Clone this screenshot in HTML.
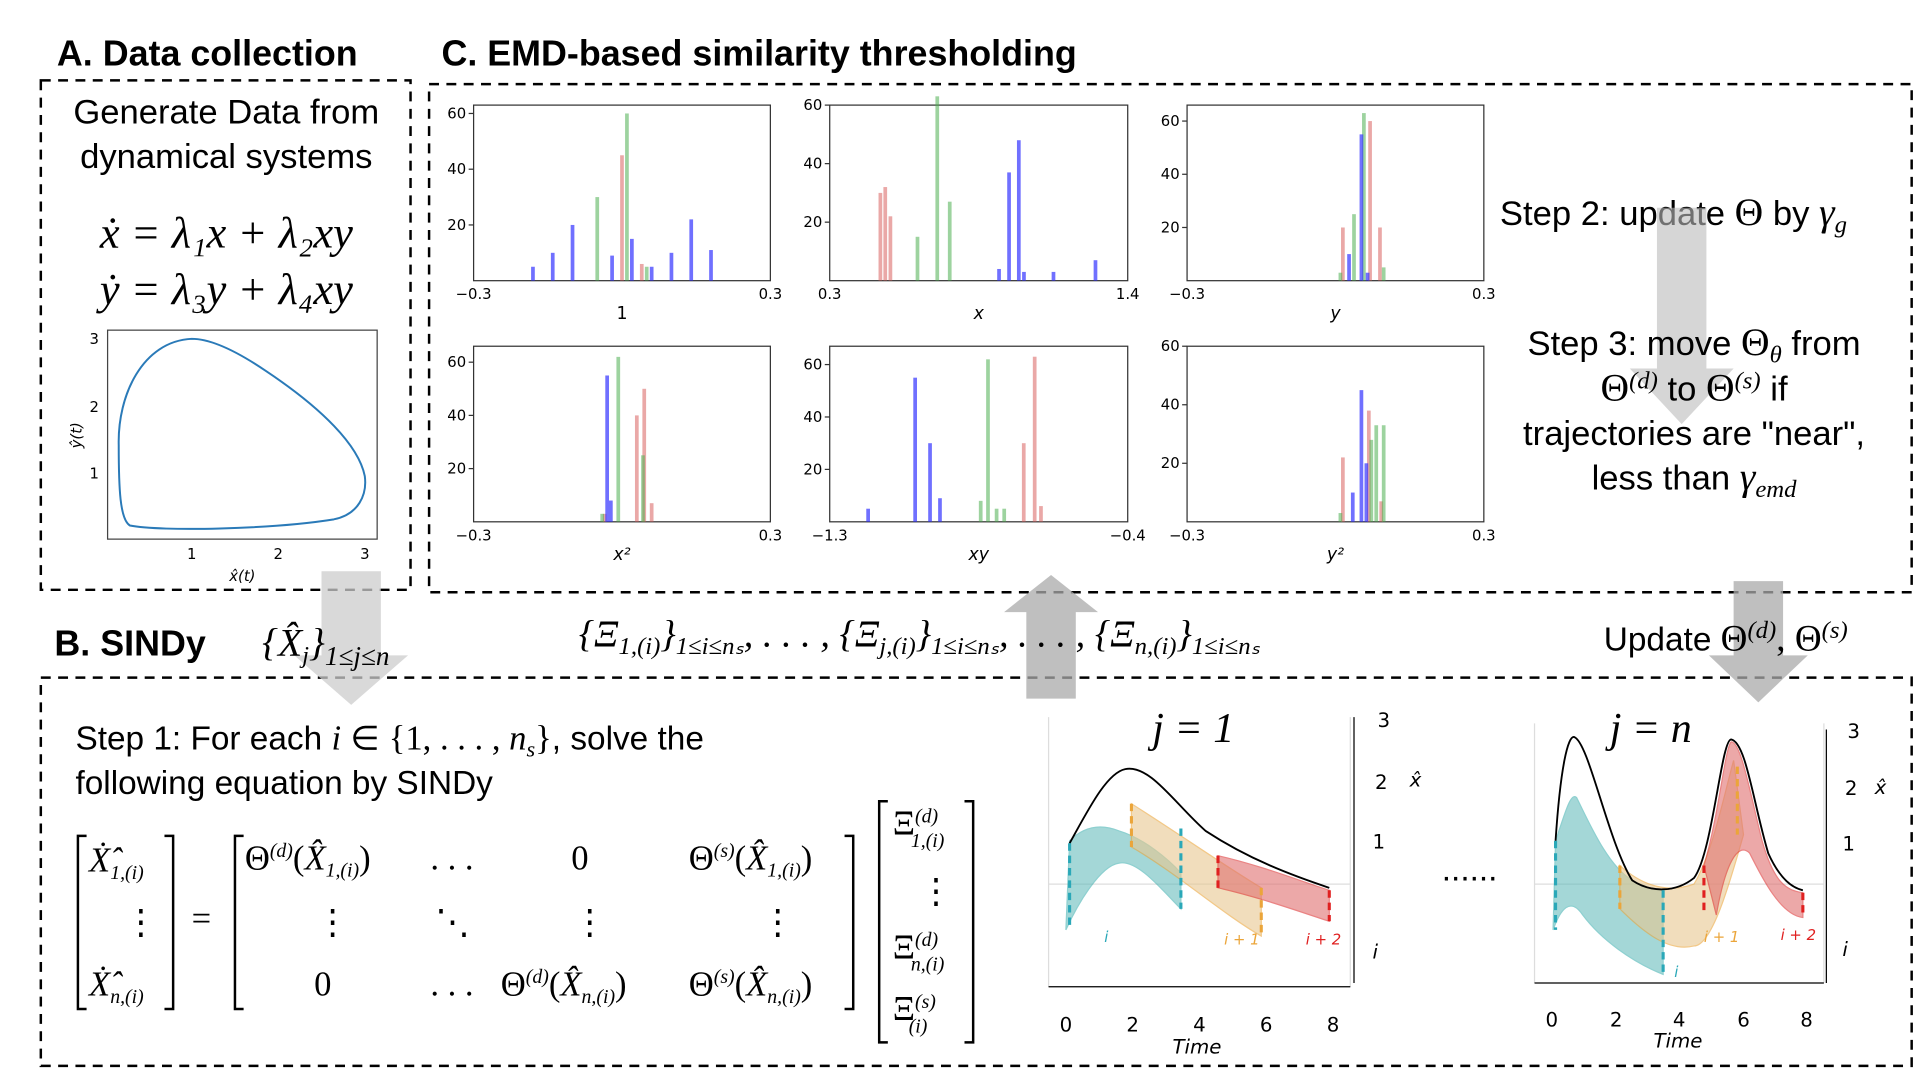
<!DOCTYPE html>
<html><head><meta charset="utf-8"><style>
html,body{margin:0;padding:0;background:#fff;}
svg{display:block;}
.h{font-family:"Liberation Sans",sans-serif;font-weight:bold;font-size:29px;}
.t{font-family:"Liberation Sans",sans-serif;font-size:27px;}
.m{font-family:"Liberation Serif",serif;font-style:italic;font-size:28px;}
.r{font-family:"Liberation Serif",serif;font-size:28px;}
.tk{font-family:"DejaVu Sans",sans-serif;font-size:12px;}
.tk2{font-family:"DejaVu Sans",sans-serif;font-size:16px;}
</style></head><body>
<svg id="fig" width="1929" height="1089" viewBox="0 0 1560 880.7" xmlns="http://www.w3.org/2000/svg">
<rect width="1560" height="881" fill="#fff"/>
<g stroke="#000" stroke-width="2" stroke-dasharray="8,6" fill="none">
<rect x="33" y="65" width="299" height="412"/>
<rect x="347" y="68" width="1199" height="411"/>
<rect x="33" y="548" width="1513" height="314"/>
</g>
<text class="h" x="46" y="53">A. Data collection</text>
<text class="h" x="357" y="53">C. EMD-based similarity thresholding</text>
<text class="h" x="44" y="530">B. SINDy</text>

<text class="t" x="183" y="100" text-anchor="middle" style="font-size:28px">Generate Data from</text>
<text class="t" x="183" y="136" text-anchor="middle" style="font-size:28px">dynamical systems</text>
<text class="m" x="183" y="200" text-anchor="middle" style="font-size:36px">ẋ = λ₁x + λ₂xy</text>
<text class="m" x="183" y="246" text-anchor="middle" style="font-size:36px">ẏ = λ₃y + λ₄xy</text>

<g>
<rect x="87" y="267" width="218" height="169" fill="none" stroke="#444" stroke-width="1"/>
<path d="M155,274 C115,276 95,320 96,360 C96,395 97,420 105,425 C130,430 220,428 270,420 C290,416 297,400 295,385 C290,360 260,330 215,300 C190,283 170,274 155,274 Z" fill="none" stroke="#2a7ab8" stroke-width="1.6"/>
<g class="tk" fill="#000">
<text x="155" y="452" text-anchor="middle">1</text><text x="225" y="452" text-anchor="middle">2</text><text x="295" y="452" text-anchor="middle">3</text>
<text x="80" y="387" text-anchor="end">1</text><text x="80" y="333" text-anchor="end">2</text><text x="80" y="278" text-anchor="end">3</text>
<text x="196" y="470" text-anchor="middle" font-style="italic">x̂(t)</text>
<text x="66" y="352" text-anchor="middle" font-style="italic" transform="rotate(-90 66 352)">ŷ(t)</text>
</g></g>

<g id="hists"></g>

<text class="t" x="1213" y="182" style="font-size:28px">Step 2: update <tspan class="r" style="font-size:32px">Θ</tspan> by <tspan class="m" style="font-size:32px">γ<tspan font-size="20" dy="6">g</tspan></tspan></text>
<path d="M1340,168 h40 v130 h22 l-42,45 l-42,-45 h22 z" fill="#bbb" opacity="0.6"/>
<g class="t" text-anchor="middle" style="font-size:28px">
<text x="1370" y="287">Step 3: move <tspan class="r" style="font-size:32px">Θ</tspan><tspan class="m" style="font-size:20px" dy="6">θ</tspan><tspan dy="-6"> from</tspan></text>
<text x="1370" y="324"><tspan class="r" style="font-size:32px">Θ</tspan><tspan class="m" style="font-size:20px" dy="-10">(d)</tspan><tspan dy="10"> to </tspan><tspan class="r" style="font-size:32px">Θ</tspan><tspan class="m" style="font-size:20px" dy="-10">(s)</tspan><tspan dy="10"> if</tspan></text>
<text x="1370" y="360">trajectories are "near",</text>
<text x="1370" y="396">less than <tspan class="m" style="font-size:32px">γ<tspan font-size="20" dy="6">emd</tspan></tspan></text>
</g>

<path d="M260,462 h48 v68 h22 l-46,40 l-46,-40 h22 z" fill="#ccc" opacity="0.75"/>
<path d="M830,565 h40 v-70 h18 l-38,-30 l-38,30 h18 z" fill="#aaa" opacity="0.75"/>
<path d="M1402,470 h40 v60 h20 l-40,38 l-40,-38 h20 z" fill="#aaa" opacity="0.75"/>

<text class="m" x="212" y="530" style="font-size:32px">{X̂<tspan font-size="20" dy="6">j</tspan><tspan dy="-6">}</tspan><tspan font-size="22" dy="8">1≤j≤n</tspan></text>
<text class="m" x="468" y="523" style="font-size:31px">{Ξ<tspan font-size="20" dy="6">1,(i)</tspan><tspan dy="-6">}</tspan><tspan font-size="20" dy="6">1≤i≤nₛ</tspan><tspan dy="-6">, . . . , {Ξ</tspan><tspan font-size="20" dy="6">j,(i)</tspan><tspan dy="-6">}</tspan><tspan font-size="20" dy="6">1≤i≤nₛ</tspan><tspan dy="-6">, . . . , {Ξ</tspan><tspan font-size="20" dy="6">n,(i)</tspan><tspan dy="-6">}</tspan><tspan font-size="20" dy="6">1≤i≤nₛ</tspan></text>
<text class="t" x="1297" y="526">Update <tspan class="r" style="font-size:30px">Θ</tspan><tspan class="m" style="font-size:20px" dy="-10">(d)</tspan><tspan class="r" dy="10" style="font-size:30px">, Θ</tspan><tspan class="m" style="font-size:20px" dy="-10">(s)</tspan></text>

<text class="t" x="61" y="606">Step 1: For each <tspan class="m">i</tspan> ∈ <tspan class="r">{1, . . . , </tspan><tspan class="m">n<tspan font-size="18" dy="6">s</tspan></tspan><tspan class="r" dy="-6">}</tspan>, solve the</text>
<text class="t" x="61" y="642">following equation by SINDy</text>

<g fill="#000">
<g stroke="#000" stroke-width="2" fill="none">
<path d="M70,676 h-7 v140 h7"/><path d="M133,676 h7 v140 h-7"/>
<path d="M197,676 h-7 v140 h7"/><path d="M683,676 h7 v140 h-7"/>
<path d="M718,648 h-7 v195 h7"/><path d="M780,648 h7 v195 h-7"/>
</g>
<text class="m" x="72" y="705">Ẋ̂<tspan font-size="16" dy="6">1,(i)</tspan></text>
<text class="r" x="100" y="755">⋮</text>
<text class="m" x="72" y="805">Ẋ̂<tspan font-size="16" dy="6">n,(i)</tspan></text>
<text class="r" x="155" y="752">=</text>
<text class="r" x="198" y="703">Θ<tspan font-size="16" dy="-10" font-style="italic">(d)</tspan><tspan dy="10">(</tspan><tspan font-style="italic">X̂</tspan><tspan font-size="16" dy="6" font-style="italic">1,(i)</tspan><tspan dy="-6">)</tspan></text>
<text class="r" x="348" y="703">. . .</text>
<text class="r" x="462" y="703">0</text>
<text class="r" x="557" y="703">Θ<tspan font-size="16" dy="-10" font-style="italic">(s)</tspan><tspan dy="10">(</tspan><tspan font-style="italic">X̂</tspan><tspan font-size="16" dy="6" font-style="italic">1,(i)</tspan><tspan dy="-6">)</tspan></text>
<text class="r" x="255" y="755">⋮</text><text class="r" x="352" y="755">⋱</text><text class="r" x="463" y="755">⋮</text><text class="r" x="615" y="755">⋮</text>
<text class="r" x="254" y="805">0</text>
<text class="r" x="348" y="805">. . .</text>
<text class="r" x="405" y="805">Θ<tspan font-size="16" dy="-10" font-style="italic">(d)</tspan><tspan dy="10">(</tspan><tspan font-style="italic">X̂</tspan><tspan font-size="16" dy="6" font-style="italic">n,(i)</tspan><tspan dy="-6">)</tspan></text>
<text class="r" x="557" y="805">Θ<tspan font-size="16" dy="-10" font-style="italic">(s)</tspan><tspan dy="10">(</tspan><tspan font-style="italic">X̂</tspan><tspan font-size="16" dy="6" font-style="italic">n,(i)</tspan><tspan dy="-6">)</tspan></text>
<text class="r" x="722" y="675">Ξ<tspan font-size="16" dy="-10" font-style="italic">(d)</tspan><tspan font-size="16" dx="-22" dy="20" font-style="italic">1,(i)</tspan></text>
<text class="r" x="743" y="730">⋮</text>
<text class="r" x="722" y="775">Ξ<tspan font-size="16" dy="-10" font-style="italic">(d)</tspan><tspan font-size="16" dx="-22" dy="20" font-style="italic">n,(i)</tspan></text>
<text class="r" x="722" y="825">Ξ<tspan font-size="16" dy="-10" font-style="italic">(s)</tspan><tspan font-size="16" dx="-22" dy="20" font-style="italic">(i)</tspan></text>
</g>

<g>
<path d="M848,580 L848,798 M1092,580 L1092,798 M848,715 H1092" stroke="#ddd" stroke-width="1" fill="none"/>
<path d="M848,798 H1092 M1095,580 V795" stroke="#000" stroke-width="1" fill="none"/>
<path d="M865,680 C880,665 895,668 905,672 C925,678 945,695 955,706 L955,735 C940,720 920,695 905,698 C890,700 872,730 862,752 Z" fill="#5ab8b8" opacity="0.55" stroke="#3aa" stroke-width="1"/>
<path d="M915,650 C950,672 990,700 1020,718 L1020,757 C990,740 950,705 915,685 Z" fill="#e8c890" opacity="0.6" stroke="#eba53a" stroke-width="1"/>
<path d="M985,692 C1020,700 1050,712 1075,720 L1075,745 C1050,737 1020,726 985,718 Z" fill="#e07070" opacity="0.6" stroke="#d33" stroke-width="1"/>
<path d="M865,682 C880,655 895,625 910,622 C930,618 950,650 975,672 C1010,695 1045,708 1075,718" fill="none" stroke="#000" stroke-width="1.5"/>
<g stroke-dasharray="6,4" stroke-width="2.5" fill="none"><path d="M865,682 V752" stroke="#2aa8b8"/><path d="M955,670 V735" stroke="#2aa8b8"/><path d="M915,650 V685" stroke="#eba53a"/><path d="M1020,718 V757" stroke="#eba53a"/><path d="M985,692 V718" stroke="#e02020"/><path d="M1075,720 V745" stroke="#e02020"/></g>
<g class="tk" font-style="italic"><text x="893" y="762" fill="#2aa8b8">i</text><text x="990" y="764" fill="#eba53a">i + 1</text><text x="1056" y="764" fill="#e02020">i + 2</text></g>
<g class="tk2"><text x="862" y="834" text-anchor="middle">0</text><text x="916" y="834" text-anchor="middle">2</text><text x="970" y="834" text-anchor="middle">4</text><text x="1024" y="834" text-anchor="middle">6</text><text x="1078" y="834" text-anchor="middle">8</text>
<text x="968" y="852" text-anchor="middle" font-style="italic">Time</text>
<text x="1114" y="588">3</text><text x="1112" y="638">2</text><text x="1110" y="686">1</text><text x="1110" y="775" font-style="italic">i</text>
<text x="1140" y="636" font-style="italic">x̂</text></g>
<text class="m" x="965" y="600" text-anchor="middle" style="font-size:34px">j = 1</text>
</g>

<text class="t" x="1166" y="712">......</text>

<g>
<path d="M1241,585 L1241,795 M1475,585 L1475,795 M1241,715 H1475" stroke="#ddd" stroke-width="1" fill="none"/>
<path d="M1241,795 H1475 M1477,590 V795" stroke="#000" stroke-width="1" fill="none"/>
<path d="M1258,680 C1265,660 1270,640 1275,645 C1285,665 1300,700 1320,712 C1332,718 1340,720 1345,720 L1345,788 C1320,778 1295,760 1280,740 C1270,725 1262,735 1256,752 Z" fill="#5ab8b8" opacity="0.55" stroke="#3aa" stroke-width="1"/>
<path d="M1310,700 C1330,718 1350,722 1370,715 C1385,690 1395,640 1402,615 L1410,675 C1400,710 1385,765 1370,765 C1350,770 1330,755 1310,735 Z" fill="#e8c890" opacity="0.6" stroke="#eba53a" stroke-width="1"/>
<path d="M1378,700 C1390,660 1395,605 1400,600 C1408,600 1415,640 1425,680 C1435,715 1445,720 1458,722 L1458,742 C1440,740 1425,710 1415,690 C1405,680 1395,700 1388,740 Z" fill="#e07070" opacity="0.6" stroke="#d33" stroke-width="1"/>
<path d="M1258,680 C1262,620 1268,595 1273,596 C1285,600 1300,680 1320,712 C1335,722 1355,722 1370,710 C1385,690 1392,598 1400,598 C1412,600 1418,650 1430,690 C1440,712 1450,718 1458,720" fill="none" stroke="#000" stroke-width="1.5"/>
<g stroke-dasharray="6,4" stroke-width="2.5" fill="none"><path d="M1258,680 V752" stroke="#2aa8b8"/><path d="M1345,720 V788" stroke="#2aa8b8"/><path d="M1310,700 V735" stroke="#eba53a"/><path d="M1405,620 V675" stroke="#eba53a"/><path d="M1378,700 V740" stroke="#e02020"/><path d="M1458,722 V742" stroke="#e02020"/></g>
<g class="tk" font-style="italic"><text x="1354" y="790" fill="#2aa8b8">i</text><text x="1378" y="762" fill="#eba53a">i + 1</text><text x="1440" y="760" fill="#e02020">i + 2</text></g>
<g class="tk2"><text x="1255" y="830" text-anchor="middle">0</text><text x="1307" y="830" text-anchor="middle">2</text><text x="1358" y="830" text-anchor="middle">4</text><text x="1410" y="830" text-anchor="middle">6</text><text x="1461" y="830" text-anchor="middle">8</text>
<text x="1357" y="847" text-anchor="middle" font-style="italic">Time</text>
<text x="1494" y="597">3</text><text x="1492" y="643">2</text><text x="1490" y="688">1</text><text x="1490" y="773" font-style="italic">i</text>
<text x="1516" y="642" font-style="italic">x̂</text></g>
<text class="m" x="1335" y="600" text-anchor="middle" style="font-size:34px">j = n</text>
</g>
</svg>
<script>
const p1BlueX=[-0.18,-0.14,-0.10,-0.02,0.02,0.06,0.10,0.14,0.18], p1BlueH=[5,10,20,9,15,5,10,22,11];
const p1RedX=[0.0,0.04], p1RedH=[45,6];
const p1GreenX=[-0.05,0.01,0.05], p1GreenH=[30,60,5];
const p2BlueX=[0.925,0.962,0.998,1.017,1.126,1.281], p2BlueH=[4,37,48,3,3,7];
const p2RedX=[0.487,0.505,0.524], p2RedH=[30,32,22];
const p2GreenX=[0.624,0.697,0.743], p2GreenH=[15,63,27];
const p3BlueX=[0.0275,0.0525,0.065], p3BlueH=[10,55,3];
const p3RedX=[0.015,0.07,0.09], p3RedH=[20,60,20];
const p3GreenX=[0.01,0.0375,0.0575,0.0975], p3GreenH=[3,25,63,5];
const p4BlueX=[-0.03,-0.0225], p4BlueH=[55,8];
const p4RedX=[-0.035,0.03,0.045,0.06], p4RedH=[3,40,50,7];
const p4GreenX=[-0.04,-0.0075,0.0425], p4GreenH=[3,62,25];
const p5BlueX=[-1.184,-1.042,-0.997,-0.967], p5BlueH=[5,55,30,9];
const p5RedX=[-0.714,-0.681,-0.662], p5RedH=[30,63,6];
const p5GreenX=[-0.844,-0.822,-0.796,-0.773], p5GreenH=[8,62,5,5];
const p6BlueX=[0.035,0.0525,0.0625], p6BlueH=[10,45,20];
const p6RedX=[0.015,0.0675,0.0925], p6RedH=[22,38,7];
const p6GreenX=[0.01,0.0725,0.0825,0.0975], p6GreenH=[3,28,33,33];
const yTicks=[20,40,60];
const panels=[
 {x0:383,w:240,y0:85,h:142,lo:-0.3,hi:0.3,ymax:63,xl:["−0.3","0.3"],lab:"1",it:false,B:[p1BlueX,p1BlueH],R:[p1RedX,p1RedH],G:[p1GreenX,p1GreenH]},
 {x0:671,w:241,y0:85,h:142,lo:0.3,hi:1.4,ymax:60,xl:["0.3","1.4"],lab:"x",it:true,B:[p2BlueX,p2BlueH],R:[p2RedX,p2RedH],G:[p2GreenX,p2GreenH]},
 {x0:960,w:240,y0:85,h:142,lo:-0.3,hi:0.3,ymax:66,xl:["−0.3","0.3"],lab:"y",it:true,B:[p3BlueX,p3BlueH],R:[p3RedX,p3RedH],G:[p3GreenX,p3GreenH]},
 {x0:383,w:240,y0:280,h:142,lo:-0.3,hi:0.3,ymax:66,xl:["−0.3","0.3"],lab:"x²",it:true,B:[p4BlueX,p4BlueH],R:[p4RedX,p4RedH],G:[p4GreenX,p4GreenH]},
 {x0:671,w:241,y0:280,h:142,lo:-1.3,hi:-0.4,ymax:67,xl:["−1.3","−0.4"],lab:"xy",it:true,B:[p5BlueX,p5BlueH],R:[p5RedX,p5RedH],G:[p5GreenX,p5GreenH]},
 {x0:960,w:240,y0:280,h:142,lo:-0.3,hi:0.3,ymax:60,xl:["−0.3","0.3"],lab:"y²",it:true,B:[p6BlueX,p6BlueH],R:[p6RedX,p6RedH],G:[p6GreenX,p6GreenH]}
];
const NS="http://www.w3.org/2000/svg";
const root=document.getElementById('hists');
function mk(t,a,p){const e=document.createElementNS(NS,t);for(const k in a)e.setAttribute(k,a[k]);p.appendChild(e);return e;}
panels.forEach((P)=>{
 const g=mk('g',{},root);
 
 
 const sx=v=>P.x0+(v-P.lo)/(P.hi-P.lo)*P.w;
 const sy=v=>P.y0+P.h-v/P.ymax*P.h;
 const fr=mk('rect',{x:P.x0,y:P.y0,width:P.w,height:P.h,fill:'none',stroke:'#333','stroke-width':1},g);
 
 
 const cols=[['R','#d9605f',0.55],['G','#4caf50',0.55],['B','#3333ff',0.7]];
 cols.forEach(([k,c,o])=>{
  const [xs,hs]=P[k];
  xs.forEach((x,i)=>{
   const b=mk('rect',{x:sx(x)-1.5,y:sy(hs[i]),width:3,height:P.y0+P.h-sy(hs[i]),fill:c,opacity:o},g);
   
   
  });
 });
 yTicks.forEach(t=>{
  mk('line',{x1:P.x0-4,x2:P.x0,y1:sy(t),y2:sy(t),stroke:'#333'},g);
  const tx=mk('text',{x:P.x0-6,y:sy(t)+4,'text-anchor':'end',class:'tk'},g);tx.textContent=t;
  
  
 });
 [[P.x0,P.xl[0]],[P.x0+P.w,P.xl[1]]].forEach(([x,l])=>{
  const tx=mk('text',{x:x,y:P.y0+P.h+15,'text-anchor':'middle',class:'tk'},g);tx.textContent=l;
  
  
 });
 const lb=mk('text',{x:P.x0+P.w/2,y:P.y0+P.h+31,'text-anchor':'middle',class:'tk',style:'font-size:14px','font-style':P.it?'italic':'normal'},g);
 lb.textContent=P.lab;
 
 
});
</script>
</body></html>
